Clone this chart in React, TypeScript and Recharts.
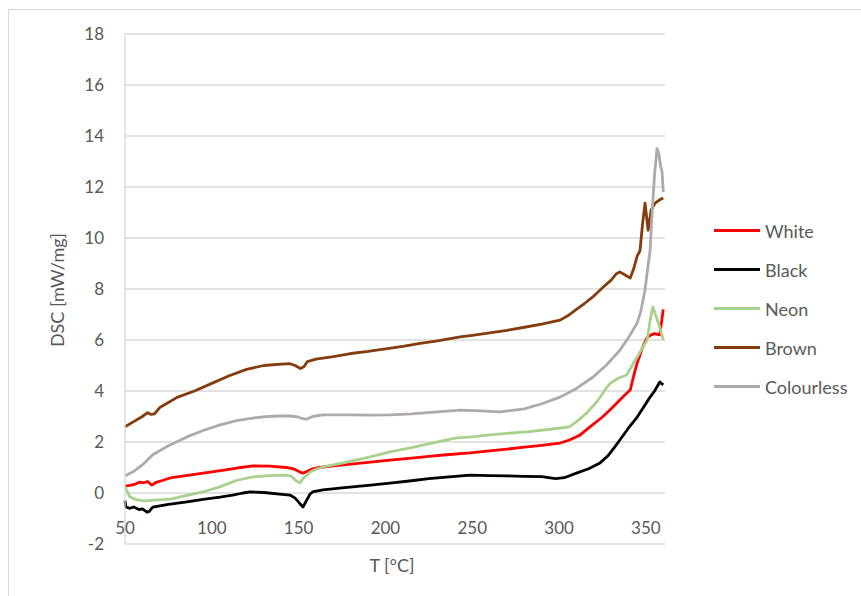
import React from 'react';
import { LineChart, Line, XAxis, YAxis, CartesianGrid } from 'recharts';

// T [°C], DSC [mW/mg]
const white: [number, number][] = [
  [50, 0.27], [53, 0.3], [56, 0.35], [58.6, 0.43], [61, 0.4], [63, 0.45], [65.5, 0.31], [68, 0.42],
  [72, 0.5], [76, 0.59], [85, 0.68], [95, 0.78], [105, 0.88], [114.5, 0.98], [123.7, 1.06], [133, 1.05],
  [143, 1.0], [147, 0.95], [150.8, 0.82], [152.5, 0.78], [155, 0.85], [158, 0.95], [162, 1.0], [170, 1.06],
  [180, 1.13], [190, 1.2], [202.6, 1.29], [215, 1.37], [225, 1.44], [235, 1.5], [248.7, 1.57], [260, 1.65],
  [270, 1.72], [280, 1.8], [290, 1.87], [300.6, 1.96], [306, 2.08], [312, 2.27], [318, 2.6], [325, 2.98],
  [330, 3.3], [335, 3.65], [338, 3.85], [341, 4.04], [343, 4.6], [345, 5.1], [348, 5.7], [350.7, 6.1],
  [353, 6.2], [355, 6.25], [358, 6.2], [360, 7.2],
];

const black: [number, number][] = [
  [50, -0.3], [50.5, -0.55], [52.9, -0.6], [55, -0.55], [58, -0.65], [60, -0.62], [62.7, -0.75], [64, -0.72],
  [66, -0.55], [75, -0.45], [85.7, -0.35], [95, -0.25], [104.7, -0.16], [112, -0.08], [118, 0.0], [122, 0.04],
  [130, 0.02], [139, -0.04], [145, -0.08], [148, -0.2], [150.5, -0.4], [152.5, -0.55], [154.5, -0.3],
  [156.5, -0.05], [158, 0.04], [164, 0.12], [175, 0.2], [190, 0.3], [202.6, 0.39], [215, 0.48], [225, 0.56],
  [235, 0.62], [248.7, 0.7], [260, 0.68], [270, 0.67], [280, 0.65], [290, 0.64], [298, 0.56], [303, 0.6],
  [310, 0.78], [317, 0.95], [323.6, 1.18], [328, 1.45], [332, 1.8], [335, 2.08], [340, 2.55], [345, 2.98],
  [349, 3.4], [352.4, 3.76], [355, 4.0], [358, 4.35], [360, 4.24],
];

const neon: [number, number][] = [
  [50, 0.24], [52.9, -0.16], [56, -0.25], [60, -0.3], [62.7, -0.31], [67, -0.28], [76, -0.24], [85, -0.1],
  [95, 0.04], [105, 0.25], [114.5, 0.5], [123.7, 0.63], [133, 0.68], [143, 0.7], [146, 0.65], [148.5, 0.48],
  [150.8, 0.4], [153, 0.6], [156.6, 0.82], [160, 0.93], [164, 1.02], [175, 1.17], [190, 1.4], [202.6, 1.61],
  [215, 1.78], [228, 1.98], [241, 2.16], [250, 2.2], [260, 2.28], [270, 2.34], [281.5, 2.4], [295, 2.5],
  [306, 2.59], [311, 2.85], [316, 3.14], [322, 3.6], [327, 4.1], [329.4, 4.3], [334, 4.5], [339, 4.63],
  [342, 5.0], [345, 5.33], [348, 5.7], [350.7, 6.0], [352.5, 6.8], [354, 7.3], [356, 6.9], [358, 6.5], [360, 6.0],
];

const brown: [number, number][] = [
  [50, 2.6], [55, 2.8], [60, 3.0], [63, 3.15], [65, 3.08], [67, 3.1], [70, 3.35], [75, 3.55], [80, 3.75],
  [90, 4.0], [100, 4.3], [110, 4.6], [120, 4.85], [130, 5.0], [140, 5.05], [145, 5.07], [148, 5.0], [151, 4.88],
  [153, 4.95], [155, 5.15], [160, 5.25], [170, 5.35], [180, 5.47], [190, 5.55], [200, 5.65], [210, 5.75],
  [220, 5.87], [230, 5.97], [243, 6.12], [250, 6.18], [260, 6.28], [270, 6.38], [280, 6.5], [290, 6.62],
  [300.6, 6.78], [305, 6.95], [310, 7.2], [315, 7.45], [319.6, 7.7], [325, 8.05], [330, 8.35], [333, 8.6],
  [335, 8.67], [338, 8.55], [341, 8.43], [343, 8.8], [345, 9.3], [346.6, 9.5], [348, 10.5], [349.5, 11.37],
  [351.3, 10.3], [353, 11.1], [355.3, 11.37], [358, 11.5], [360, 11.57],
];

const colourless: [number, number][] = [
  [50, 0.67], [55, 0.85], [60, 1.1], [66, 1.5], [75, 1.85], [85.7, 2.2], [95, 2.45], [104.7, 2.67],
  [115, 2.85], [123.7, 2.94], [132, 3.0], [139, 3.02], [145, 3.02], [149.7, 2.98], [152, 2.92], [154.8, 2.9],
  [158, 3.0], [164, 3.06], [180, 3.06], [190, 3.05], [202.6, 3.06], [215, 3.1], [230, 3.18], [243, 3.25],
  [255, 3.22], [266, 3.18], [280, 3.3], [290, 3.5], [300.6, 3.76], [310, 4.1], [319.6, 4.55], [327, 5.0],
  [335, 5.6], [340, 6.1], [345, 6.67], [347, 7.1], [349.5, 7.96], [351, 8.8], [352.4, 9.5], [353.6, 11.0],
  [355, 12.5], [356.4, 13.5], [357.5, 13.3], [358.5, 12.8], [359.3, 12.6], [360, 11.8],
];

const xTicks = [50, 100, 150, 200, 250, 300, 350];
const yTicks = [-2, 0, 2, 4, 6, 8, 10, 12, 14, 16, 18];

const series = [
  { name: 'White', color: '#ff0000', points: white },
  { name: 'Black', color: '#000000', points: black },
  { name: 'Neon', color: '#a9d18e', points: neon },
  { name: 'Brown', color: '#843c0c', points: brown },
  { name: 'Colourless', color: '#aeaaaa', points: colourless },
];

const font = 'Lato, "Open Sans", sans-serif';
const textColor = '#595959';

const XTick = ({ x, y, payload }: any) => (
  <text x={x} y={y} dy={-10} textAnchor="middle" fill={textColor} fontSize={17} fontFamily={font}>
    {payload.value}
  </text>
);

export default function App() {
  return (
    <div style={{ position: 'fixed', left: 0, top: 0, width: 861, height: 596, overflow: 'hidden', background: '#fff' }}>
      <div style={{ position: 'absolute', left: 8, top: 9, width: 1000, height: 1000, border: '1.5px solid #d9d9d9' }} />
      <LineChart
        width={861}
        height={596}
        margin={{ top: 34, right: 196, left: 85, bottom: 22 }}
        style={{ position: 'absolute', left: 0, top: 0 }}
      >
        <CartesianGrid vertical={false} stroke="#d9d9d9" strokeWidth={1.3} />
        <XAxis
          type="number"
          dataKey="T"
          domain={[50, 361]}
          ticks={xTicks}
          allowDuplicatedCategory={false}
          axisLine={false}
          tickLine={false}
          tickSize={0}
          tickMargin={0}
          height={30}
          tick={<XTick />}
        />
        <YAxis
          type="number"
          domain={[-2, 18]}
          ticks={yTicks}
          width={40}
          axisLine={{ stroke: '#d9d9d9', strokeWidth: 1.3 }}
          tickLine={false}
          tickSize={0}
          tickMargin={21}
          tick={{ fill: textColor, fontSize: 17, fontFamily: font }}
        />
        {series.map((s) => (
          <Line
            key={s.name}
            name={s.name}
            data={s.points.map(([T, DSC]) => ({ T, DSC }))}
            dataKey="DSC"
            stroke={s.color}
            strokeWidth={2.8}
            dot={false}
            isAnimationActive={false}
            strokeLinejoin="round"
          />
        ))}
      </LineChart>
      <div style={{ position: 'absolute', left: 714, top: 211, fontFamily: font }}>
        {series.map((s) => (
          <div key={s.name} style={{ display: 'flex', alignItems: 'center', height: 39 }}>
            <div style={{ width: 46, height: 3, background: s.color, marginRight: 5 }} />
            <span style={{ fontSize: 18, color: textColor }}>{s.name}</span>
          </div>
        ))}
      </div>
      <div
        style={{
          position: 'absolute', left: 57, top: 290, transform: 'translate(-50%, -50%) rotate(-90deg)',
          whiteSpace: 'nowrap', fontFamily: font, fontSize: 18, color: textColor,
        }}
      >
        DSC [mW/mg]
      </div>
      <div
        style={{
          position: 'absolute', left: 392, top: 565, transform: 'translate(-50%, -50%)',
          whiteSpace: 'nowrap', fontFamily: font, fontSize: 18, color: textColor,
        }}
      >
        T [°C]
      </div>
    </div>
  );
}
